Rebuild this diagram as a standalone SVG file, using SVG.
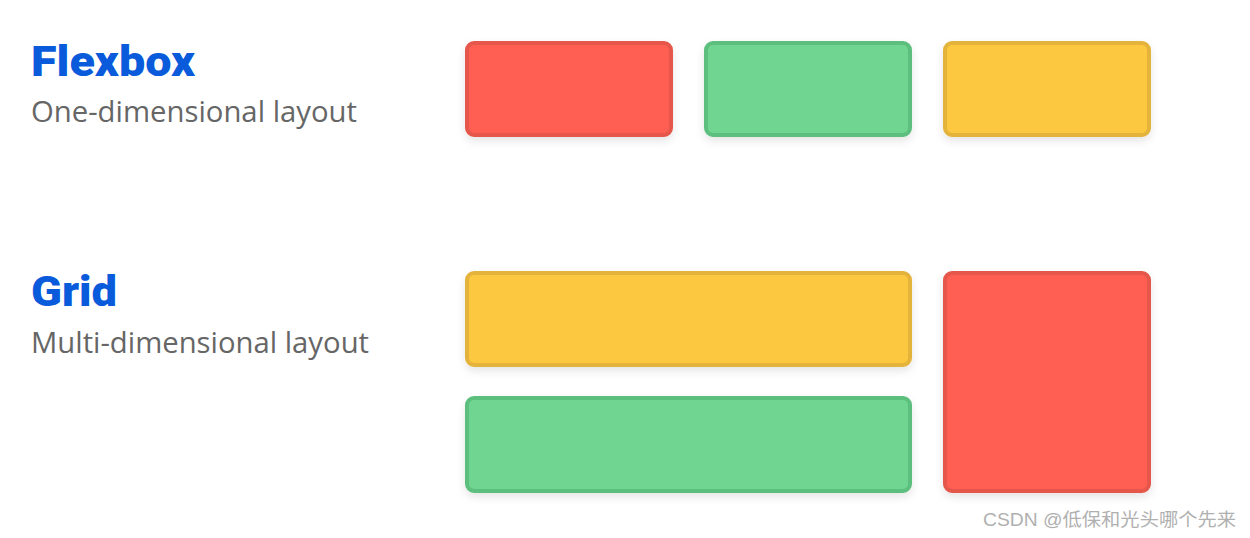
<svg xmlns="http://www.w3.org/2000/svg" width="1250" height="538" viewBox="0 0 1250 538">
<defs>
<filter id="sh" x="-10%" y="-10%" width="120%" height="130%">
<feDropShadow dx="0" dy="4" stdDeviation="4" flood-color="#000" flood-opacity="0.10"/>
</filter>
<style>
.title{font-family:Roboto,"Open Sans",sans-serif;font-weight:900;font-size:42px;fill:#0A5BDB}
.sub{font-family:"Open Sans",Roboto,sans-serif;font-size:29px;fill:#666666}
.red{fill:#FF5F52;stroke:#E5574B;stroke-width:4}
.green{fill:#6FD591;stroke:#5DBF7E;stroke-width:4}
.yellow{fill:#FCC83F;stroke:#E4B33A;stroke-width:4}
.wm{font-family:"Liberation Sans","Noto Sans CJK SC",sans-serif;font-size:18px;fill:#B0B0B0}
</style>
</defs>
<rect width="1250" height="538" fill="#ffffff"/>
<g id="flexbox-label">
<text class="title" x="31" y="76" textLength="164" lengthAdjust="spacingAndGlyphs">Flexbox</text>
<text class="sub" x="31" y="122" textLength="326" lengthAdjust="spacingAndGlyphs">One-dimensional layout</text>
</g>
<g id="grid-label">
<text class="title" x="31" y="306" textLength="86" lengthAdjust="spacingAndGlyphs">Grid</text>
<text class="sub" x="31" y="353" textLength="338" lengthAdjust="spacingAndGlyphs">Multi-dimensional layout</text>
</g>
<g id="flex-red" filter="url(#sh)"><rect class="red" x="467" y="43" width="204" height="92" rx="7"/></g>
<g id="flex-green" filter="url(#sh)"><rect class="green" x="706" y="43" width="204" height="92" rx="7"/></g>
<g id="flex-yellow" filter="url(#sh)"><rect class="yellow" x="945" y="43" width="204" height="92" rx="7"/></g>
<g id="grid-yellow" filter="url(#sh)"><rect class="yellow" x="467" y="273" width="443" height="92" rx="7"/></g>
<g id="grid-green" filter="url(#sh)"><rect class="green" x="467" y="398" width="443" height="93" rx="7"/></g>
<g id="grid-red" filter="url(#sh)"><rect class="red" x="945" y="273" width="204" height="218" rx="7"/></g>
<g id="connectors"></g>
<text class="wm" x="983" y="526" textLength="253" lengthAdjust="spacingAndGlyphs">CSDN @低保和光头哪个先来</text>
</svg>
